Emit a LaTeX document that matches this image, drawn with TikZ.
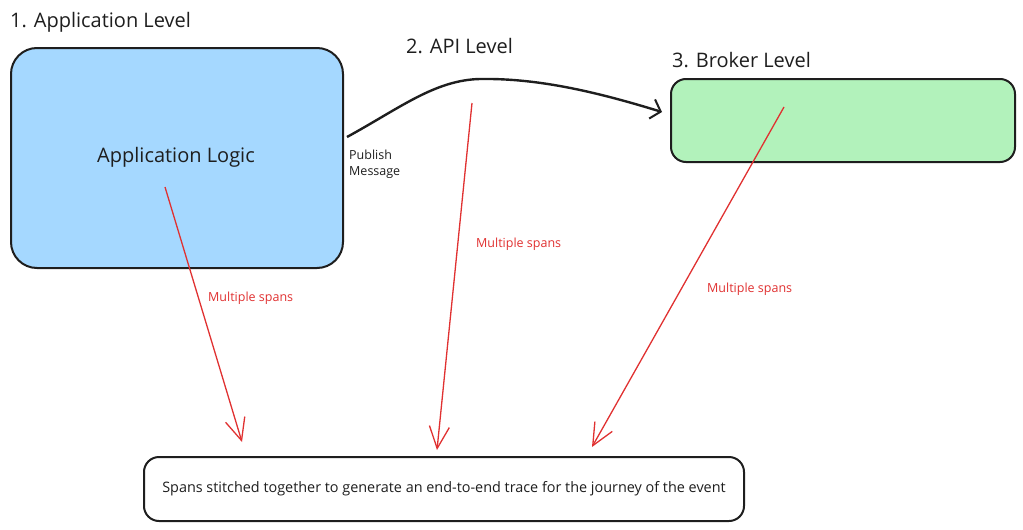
\documentclass[tikz,border=0pt]{standalone}
\usepackage{fontspec}
\setmainfont{Open Sans}
\usetikzlibrary{arrows.meta,calc}
\definecolor{appblue}{HTML}{A5D8FF}
\definecolor{brokergreen}{HTML}{B2F2BB}
\definecolor{spanred}{HTML}{E03131}
\definecolor{inkblack}{HTML}{1E1E1E}
\begin{document}
\begin{tikzpicture}[x=1pt,y=-1pt,
  box/.style={draw=inkblack,line width=2pt,rounded corners=#1},
  title/.style={anchor=west,text=inkblack,font=\fontsize{20}{22}\selectfont,inner sep=0pt},
  spanlbl/.style={text=spanred,font=\fontsize{12.5}{14}\selectfont,inner sep=0pt,anchor=west},
  spanarrow/.style={draw=spanred,line width=1.3pt,-{Straight Barb[length=22pt,width=20pt,line width=1.3pt]}},
  flow/.style={draw=inkblack,line width=2.4pt,-{Straight Barb[length=9pt,width=20pt,line width=2pt]}}]
\useasboundingbox (0,0) rectangle (1023,530);
% boxes
\node[box=26pt,fill=appblue,minimum width=332pt,minimum height=220pt,anchor=north west,inner sep=0pt] (app) at (10,47) {};
\node[box=15pt,fill=brokergreen,minimum width=344pt,minimum height=83pt,anchor=north west,inner sep=0pt] (broker) at (670,78) {};
\node[box=15pt,fill=white,minimum width=600pt,minimum height=64pt,anchor=north west,inner sep=0pt] (trace) at (143,456) {};
% texts
\node[title] (t1) at (10,22) {1. Application Level};
\node[title] (t2) at (406,46) {2. API Level};
\node[title] (t3) at (672,60) {3. Broker Level};
\node[text=inkblack,font=\fontsize{20}{22}\selectfont] (applogic) at (176,157) {Application Logic};
\node[anchor=north west,align=left,text=inkblack,font=\fontsize{12.5}{16}\selectfont,inner sep=0pt] (pub) at (349,150) {Publish\\Message};
\node[text=inkblack,font=\fontsize{14.4}{16}\selectfont] (tracetxt) at (trace.center) {Spans stitched together to generate an end-to-end trace for the journey of the event};
% publish flow
\coordinate (pubstart) at (347,137);
\coordinate (pubpeak) at (480,79);
\coordinate (pubend) at (662,112);
\draw[flow] (pubstart) .. controls (400,108) and (435,80) .. (pubpeak) .. controls (540,78) and (600,93) .. (pubend);
% span arrows
\coordinate (s1) at (165,187);
\coordinate (e1) at (242,442);
\coordinate (s2) at (472,103);
\coordinate (e2) at (437,450);
\coordinate (s3) at (784,107);
\coordinate (e3) at (592,447);
\draw[spanarrow] (s1) -- (e1);
\draw[spanarrow] (s2) -- (e2);
\draw[spanarrow] (s3) -- (e3);
\node[spanlbl] (l1) at (208,298) {Multiple spans};
\node[spanlbl] (l2) at (476,244) {Multiple spans};
\node[spanlbl] (l3) at (707,289) {Multiple spans};
\end{tikzpicture}
\end{document}
